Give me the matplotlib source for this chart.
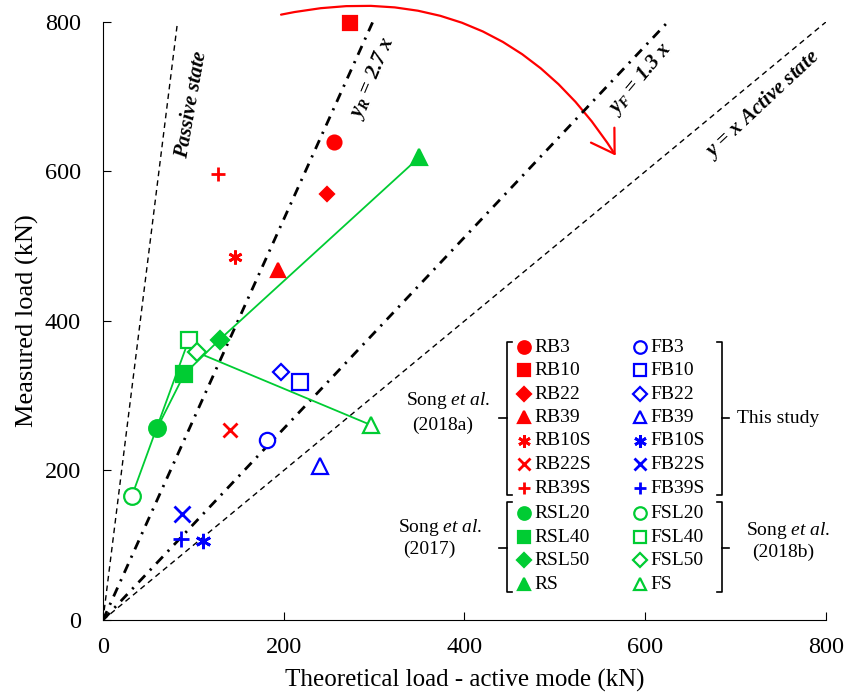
import matplotlib
matplotlib.use('Agg')
import matplotlib.pyplot as plt
from matplotlib.patches import FancyArrowPatch

plt.rcParams['font.family'] = ['Liberation Serif', 'DejaVu Serif']
plt.rcParams['mathtext.fontset'] = 'custom'
plt.rcParams['mathtext.rm'] = 'Liberation Serif'
plt.rcParams['mathtext.it'] = 'Liberation Serif:italic'
plt.rcParams['mathtext.bf'] = 'Liberation Serif:bold:italic'

# data (kN)
rb_labels = ['RB3', 'RB10', 'RB22', 'RB39', 'RB10S', 'RB22S', 'RB39S']
rb_x = [256, 273, 248, 194, 146, 140, 127]
rb_y = [640, 798, 570, 468, 486, 254, 597]

fb_labels = ['FB3', 'FB10', 'FB22', 'FB39', 'FB10S', 'FB22S', 'FB39S']
fb_x = [181, 218, 197, 240, 111, 87, 86]
fb_y = [241, 318, 332, 206, 106, 142, 108]

rsl_labels = ['RSL20', 'RSL40', 'RSL50', 'RS']
rsl_x = [60, 90, 129, 350]
rsl_y = [257, 329, 375, 619]

fsl_labels = ['FSL20', 'FSL40', 'FSL50', 'FS']
fsl_x = [32, 95, 104, 296]
fsl_y = [166, 375, 358, 261]

# reference lines y = k x (as drawn in the picture)
ref_slopes = [9.7, 2.68, 1.28, 1.0]

marks_b = ['o', 's', 'D', '^', (6, 2, 0), 'x', '+']
marks_s = ['o', 's', 'D', '^']
red = '#ff0000'
blue = '#0000ff'
green = '#00cc33'

fig = plt.figure(figsize=(8.47, 6.97), dpi=100)
ax = fig.add_axes([0.1216, 0.1105, 0.8536, 0.858])

# reference lines
styles = [dict(ls=(0, (4, 3)), lw=1.0), dict(ls=(0, (3.5, 2.5, 0.8, 2.5)), lw=2.0),
          dict(ls=(0, (3.5, 2.5, 0.8, 2.5)), lw=2.0), dict(ls=(0, (4, 3)), lw=1.0)]
for k, st in zip(ref_slopes, styles):
    ax.plot([0, 800 / k], [0, 800], color='black', **st)

# green connecting lines
ax.plot(fsl_x, fsl_y, color=green, lw=1.3, zorder=2)
ax.plot(rsl_x, rsl_y, color=green, lw=1.3, zorder=2)


def pt(x, y, m, c, filled, ms):
    if m in ('x', '+') or isinstance(m, tuple):
        ax.plot(x, y, marker=m, color=c, ms=ms, mew=2, ls='none', zorder=3, clip_on=False)
    else:
        ax.plot(x, y, marker=m, color=c, ms=ms if m != 'D' else ms * 0.75, mew=1.6,
                mfc=c if filled else 'white', ls='none', zorder=3, clip_on=False)


for i in range(len(rb_x)):
    pt(rb_x[i], rb_y[i], marks_b[i], red, True, 10)
    pt(fb_x[i], fb_y[i], marks_b[i], blue, False, 11)
for i in range(len(rsl_x)):
    pt(rsl_x[i], rsl_y[i], marks_s[i], green, True, 12)
    pt(fsl_x[i], fsl_y[i], marks_s[i], green, False, 12)

# custom legend
rows = [365, 334, 302, 271, 240, 208, 176, 143, 111, 80, 48]
lx_m, lx_t, rx_m, rx_t = 466, 477, 594, 606
left_lab = rb_labels + rsl_labels
right_lab = fb_labels + fsl_labels
for i, y in enumerate(rows):
    if i < 7:
        m, c = marks_b[i], red
        mc = blue
    else:
        m, c = marks_s[i - 7], green
        mc = green
    pt(lx_m, y, m, c, True, 9)
    pt(rx_m, y, m, mc, False, 9)
    ax.text(lx_t, y, left_lab[i], fontsize=14, va='center', ha='left')
    ax.text(rx_t, y, right_lab[i], fontsize=14, va='center', ha='left')


# brackets
def bracket(x, y0, y1, ym, side):
    h = 6 if side == 'left' else -6
    t = -9 if side == 'left' else 8
    ax.plot([x + h, x, x, x + h], [y0, y0, y1, y1], color='black', lw=1.2)
    ax.plot([x, x + t], [ym, ym], color='black', lw=1.2)


bracket(447, 372, 167, 270, 'left')
bracket(685, 372, 167, 270, 'right')
bracket(447, 158, 37, 96, 'left')
bracket(685, 158, 37, 96, 'right')

song = 'Song $\\mathit{et\\ al}$.'
ax.text(335, 294, song, fontsize=14, va='center', ha='left')
ax.text(342, 261, '(2018a)', fontsize=14, va='center', ha='left')
ax.text(701, 270, 'This study', fontsize=14, va='center', ha='left')
ax.text(326, 124, song, fontsize=14, va='center', ha='left')
ax.text(332, 94, '(2017)', fontsize=14, va='center', ha='left')
ax.text(712, 120, song, fontsize=14, va='center', ha='left', clip_on=False)
ax.text(718, 90, '(2018b)', fontsize=14, va='center', ha='left')

# line annotations
bi = dict(fontsize=15, fontweight='bold', fontstyle='italic', ha='center', va='center')
ax.text(98, 689, 'Passive state', rotation=80, **bi)
ax.text(298, 725, '$\\mathbf{y}_{\\mathbf{R}}$ = 2.7 $\\mathbf{x}$', rotation=67, **bi)
ax.text(594, 724, '$\\mathbf{y}_{\\mathbf{F}}$ = 1.3 $\\mathbf{x}$', rotation=50, **bi)
ax.text(730, 690, '$\\mathbf{y}$ = $\\mathbf{x}$ Active state', rotation=43, **bi)

arc = FancyArrowPatch((194, 809), (569, 618), connectionstyle='arc3,rad=-0.35',
                      arrowstyle='->,head_length=0.8,head_width=0.5', color=red, lw=1.6,
                      mutation_scale=20, clip_on=False)
ax.add_patch(arc)

ax.set_xlim(0, 800)
ax.set_ylim(0, 800)
ax.set_xticks([0, 200, 400, 600, 800])
ax.set_yticks([0, 200, 400, 600, 800])
ax.tick_params(direction='in', length=6, labelsize=17.5)
ax.tick_params(axis='x', pad=12)
ax.tick_params(axis='y', pad=16)
ax.spines['top'].set_visible(False)
ax.spines['right'].set_visible(False)
ax.set_xlabel('Theoretical load - active mode (kN)', fontsize=18, labelpad=8)
ax.set_ylabel('Measured load (kN)', fontsize=19, labelpad=4)

fig.savefig('out.png', dpi=100)
